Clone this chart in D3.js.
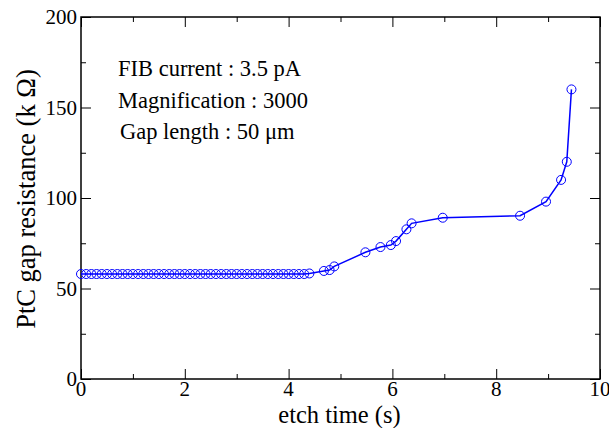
<!DOCTYPE html>
<html>
<head>
<meta charset="utf-8">
<script src="https://cdn.jsdelivr.net/npm/d3@7"></script>
<style>
  body { margin: 0; background: #fff; }
</style>
</head>
<body>
<div id="chart"></div>
<script>
// etch time (s) and gap resistance (k Ohm)
const times = [
  0, 0.1, 0.2, 0.3, 0.4, 0.5, 0.6, 0.7, 0.8, 0.9,
  1.0, 1.1, 1.2, 1.3, 1.4, 1.5, 1.6, 1.7, 1.8, 1.9,
  2.0, 2.1, 2.2, 2.3, 2.4, 2.5, 2.6, 2.7, 2.8, 2.9,
  3.0, 3.1, 3.2, 3.3, 3.4, 3.5, 3.6, 3.7, 3.8, 3.9,
  4.0, 4.1, 4.2, 4.3, 4.4,
  4.68, 4.79, 4.88, 5.48, 5.77, 5.97, 6.07, 6.27, 6.37, 6.97,
  8.46, 8.96, 9.25, 9.36, 9.45
];
const resistance = [
  58, 58, 58, 58, 58, 58, 58, 58, 58, 58,
  58, 58, 58, 58, 58, 58, 58, 58, 58, 58,
  58, 58, 58, 58, 58, 58, 58, 58, 58, 58,
  58, 58, 58, 58, 58, 58, 58, 58, 58, 58,
  58, 58, 58, 58, 58.3,
  59.7, 60.2, 62.2, 70, 72.9, 74, 76.2, 82.7, 86, 89.1,
  90.2, 98, 110, 120, 160
];
const xTicks = [0, 2, 4, 6, 8, 10];
const xMinor = [1, 3, 5, 7, 9];
const yTicks = [0, 50, 100, 150, 200];
const yMinor = [25, 75, 125, 175];
const notes = ["FIB current : 3.5 pA", "Magnification : 3000", "Gap length : 50 \u03bcm"];

const W = 609, H = 428;
const m = {top: 17, right: 9, bottom: 49, left: 81};
const iw = W - m.left - m.right, ih = H - m.top - m.bottom;
const serif = "'Liberation Serif', 'Times New Roman', serif";

const svg = d3.select("#chart").append("svg")
  .attr("width", W).attr("height", H)
  .attr("font-family", serif);
const g = svg.append("g").attr("transform", `translate(${m.left},${m.top})`);

const x = d3.scaleLinear().domain([0, 10]).range([0, iw]);
const y = d3.scaleLinear().domain([0, 200]).range([ih, 0]);

// ticks on all four sides, pointing inward
const sides = [
  [() => d3.axisBottom(x), `translate(0,${ih})`, xTicks, xMinor],
  [() => d3.axisTop(x), `translate(0,0)`, xTicks, xMinor],
  [() => d3.axisLeft(y), `translate(0,0)`, yTicks, yMinor],
  [() => d3.axisRight(y), `translate(${iw},0)`, yTicks, yMinor]
];
sides.forEach(([mk, tr, maj, min]) => {
  [[maj, 10], [min, 5]].forEach(([vals, len]) => {
    const s = g.append("g").attr("transform", tr)
      .call(mk().tickValues(vals).tickSize(-len).tickFormat(""));
    s.select(".domain").remove();
    s.selectAll("line").attr("stroke", "#000").attr("stroke-width", 1);
  });
});

// frame
g.append("rect")
  .attr("width", iw).attr("height", ih)
  .attr("fill", "none").attr("stroke", "#000").attr("stroke-width", 1.5);

// tick labels
g.selectAll(".xl").data(xTicks).enter().append("text")
  .attr("x", d => x(d)).attr("y", ih + 16.5)
  .attr("text-anchor", "middle").attr("font-size", 21)
  .attr("font-family", serif)
  .text(d => d);
g.selectAll(".yl").data(yTicks).enter().append("text")
  .attr("x", -4).attr("y", d => y(d) + 7)
  .attr("text-anchor", "end").attr("font-size", 21)
  .attr("font-family", serif)
  .text(d => d);

// axis titles
svg.append("text")
  .attr("x", m.left + iw / 2 - 1).attr("y", H - 5.5)
  .attr("text-anchor", "middle").attr("font-size", 24.5)
  .attr("font-family", serif)
  .text("etch time (s)");
svg.append("text")
  .attr("transform", `translate(35,${m.top + ih / 2 + 1}) rotate(-90)`)
  .attr("text-anchor", "middle").attr("font-size", 26.5)
  .attr("font-family", serif)
  .text("PtC gap resistance (k \u03a9)");

// data
const pts = times.map((t, i) => [t, resistance[i]]);
const line = d3.line().x(d => x(d[0])).y(d => y(d[1]));
g.append("path").datum(pts)
  .attr("d", line).attr("fill", "none")
  .attr("stroke", "#0000ff").attr("stroke-width", 1.5);
g.selectAll("circle").data(pts).enter().append("circle")
  .attr("cx", d => x(d[0])).attr("cy", d => y(d[1]))
  .attr("r", 4.5).attr("fill", "none")
  .attr("stroke", "#0000ff").attr("stroke-width", 1);

// annotations
svg.selectAll(".note").data(notes).enter().append("text")
  .attr("x", (d, i) => i === 2 ? 120 : 118)
  .attr("y", (d, i) => 76 + i * 31.5)
  .attr("font-size", 22.5)
  .attr("font-family", serif)
  .text(d => d);
</script>
</body>
</html>
